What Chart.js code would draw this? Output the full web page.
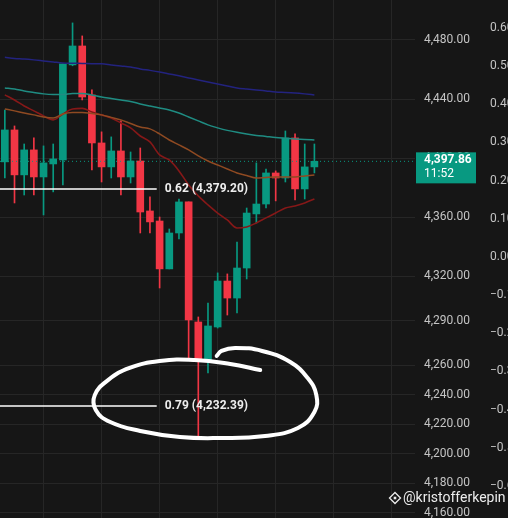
<!DOCTYPE html>
<html>
<head>
<meta charset="utf-8">
<script src="https://cdn.jsdelivr.net/npm/chart.js@4.4.1/dist/chart.umd.min.js"></script>
<style>
    html, body { margin: 0; padding: 0; background: #161616; overflow: hidden; }
    #wrap { width: 508px; height: 518px; }
</style>
</head>
<body>
<div id="wrap"><canvas id="chart" width="508" height="518"></canvas></div>
<script>
// candles (oldest -> newest)
const opens  = [4397.5, 4419.1, 4388.7, 4405.6, 4387.3, 4396.1, 4398.8, 4463.1, 4475.9, 4442.8, 4410.3, 4394.1, 4404.9, 4387.3, 4398.1, 4364.3, 4357.5, 4325.1, 4349.4, 4370.4, 4289.2, 4263.5, 4285.8, 4316.9, 4305.4, 4325.7, 4362.3, 4369.0, 4390.0, 4386.6, 4413.7, 4379.2, 4394.1];
const highs  = [4432.6, 4421.8, 4409.6, 4413.7, 4408.3, 4409.6, 4463.8, 4491.5, 4482.7, 4446.2, 4417.8, 4414.4, 4425.2, 4404.2, 4406.9, 4373.8, 4360.2, 4352.1, 4372.4, 4370.4, 4292.6, 4302.0, 4322.4, 4321.7, 4343.3, 4366.3, 4396.8, 4392.7, 4391.4, 4418.4, 4416.4, 4409.6, 4409.6];
const lows   = [4386.6, 4369.7, 4375.1, 4375.1, 4361.6, 4377.2, 4381.9, 4462.5, 4439.4, 4392.0, 4383.9, 4386.6, 4375.1, 4383.2, 4349.4, 4349.4, 4312.2, 4325.1, 4345.4, 4263.5, 4211.4, 4254.7, 4285.1, 4293.9, 4295.3, 4318.3, 4356.2, 4366.3, 4371.1, 4383.9, 4371.7, 4372.4, 4390.0];
const closes = [4419.1, 4388.7, 4405.6, 4387.3, 4396.8, 4399.5, 4463.8, 4475.9, 4441.4, 4410.3, 4394.1, 4404.9, 4387.3, 4398.1, 4363.6, 4356.9, 4325.1, 4349.4, 4370.4, 4290.6, 4263.5, 4286.5, 4316.9, 4305.4, 4325.7, 4362.9, 4369.0, 4390.0, 4386.6, 4413.7, 4379.2, 4394.1, 4397.86];

// moving averages
const maNavy   = [4468.2, 4467.5, 4467.1, 4466.5, 4465.8, 4465.1, 4464.4, 4464.2, 4464.1, 4463.9, 4463.8, 4463.1, 4462.4, 4461.7, 4460.4, 4459.4, 4458.3, 4457.0, 4455.7, 4454.3, 4452.9, 4451.6, 4450.2, 4448.9, 4447.5, 4446.8, 4446.2, 4445.5, 4444.8, 4444.5, 4444.1, 4443.5, 4442.8];
const maTeal   = [4447.5, 4446.8, 4445.5, 4444.5, 4443.5, 4443.1, 4443.1, 4443.8, 4443.8, 4442.8, 4441.4, 4440.4, 4439.4, 4438.4, 4436.7, 4435.3, 4434.0, 4432.6, 4430.6, 4427.9, 4425.2, 4422.5, 4420.5, 4418.8, 4417.5, 4416.4, 4415.4, 4414.7, 4414.0, 4413.5, 4413.0, 4412.7, 4412.3];
const maOrange = [4433.3, 4432.0, 4430.6, 4429.3, 4427.9, 4427.2, 4429.9, 4430.9, 4430.9, 4430.3, 4429.3, 4427.6, 4425.9, 4423.5, 4421.1, 4419.8, 4416.4, 4412.3, 4409.0, 4405.6, 4401.5, 4398.1, 4395.4, 4392.7, 4390.0, 4388.3, 4386.6, 4387.0, 4387.3, 4387.3, 4387.3, 4388.0, 4388.7];
const maRed    = [4442.8, 4439.4, 4435.3, 4432.0, 4428.6, 4425.9, 4429.9, 4433.3, 4433.7, 4431.3, 4429.3, 4427.2, 4423.8, 4420.5, 4415.0, 4411.0, 4402.2, 4398.8, 4391.4, 4381.9, 4374.5, 4368.4, 4362.9, 4358.2, 4352.8, 4353.5, 4356.2, 4359.6, 4362.9, 4366.3, 4367.7, 4369.7, 4372.4];

// axes
const priceTicks = [4160, 4180, 4200, 4220, 4240, 4260, 4290, 4320, 4360, 4400, 4440, 4480];
const oscTicks = [0.6, 0.5, 0.4, 0.3, 0.2, 0.1, 0, -0.1, -0.2, -0.3, -0.4, -0.5, -0.6];
const gridIdx = [4, 10, 16, 22, 28, 34, 40];

// fib levels
const fibLevels = [0.62, 0.79];
const fibPrices = [4379.20, 4232.39];
const lastPrice = 4397.86;
const countdown = "11:52";

// hand-drawn circle, in (bar index, price)
const circleIdx   = [26.4, 23.3, 19.6, 16.0, 12.9, 10.7, 9.3, 9.4, 10.9, 14.0, 18.1, 22.2, 26.9, 30.3, 32.0, 32.2, 31.3, 29.5, 26.6, 23.8, 22.4, 21.9];
const circlePrice = [4256.7, 4260.8, 4263.5, 4262.8, 4258.1, 4250.0, 4239.8, 4229.7, 4221.5, 4215.5, 4211.4, 4210.7, 4212.1, 4217.5, 4228.3, 4239.8, 4251.3, 4262.1, 4269.6, 4271.6, 4269.6, 4266.2];

const GREEN = '#089981';
const RED = '#f23645';
const X_MIN = -0.5, X_MAX = 42.4, FIB_END = 15.7;

const idx = closes.map((_, i) => i);
const candleColors = idx.map(i => closes[i] >= opens[i] ? GREEN : RED);

const fmtPrice = v => v.toLocaleString('en-US', { minimumFractionDigits: 2, maximumFractionDigits: 2 });

function noPad(s) {
    s.paddingLeft = 0;
    s.paddingRight = 0;
    s.paddingTop = 0;
    s.paddingBottom = 0;
}

function maDataset(values, color, width) {
    return {
        type: 'line',
        data: values.map((v, i) => ({ x: i, y: v })),
        borderColor: color,
        borderWidth: width,
        pointRadius: 0,
        cubicInterpolationMode: 'monotone',
        order: 2
    };
}

const datasets = [
    {
        type: 'bar',
        data: idx.map(i => ({ x: i, y: [lows[i], highs[i]] })),
        backgroundColor: candleColors,
        barThickness: 1,
        grouped: false,
        order: 6
    },
    {
        type: 'bar',
        data: idx.map(i => ({ x: i, y: [opens[i], closes[i]] })),
        backgroundColor: candleColors,
        barThickness: 7,
        minBarLength: 1,
        grouped: false,
        order: 5
    },
    maDataset(maNavy, '#23237f', 1.5),
    maDataset(maTeal, '#1f8c82', 1.5),
    maDataset(maOrange, '#8f4a22', 1.5),
    maDataset(maRed, '#861818', 1.6),
    {
        type: 'line',
        data: [{ x: X_MIN, y: lastPrice }, { x: X_MAX, y: lastPrice }],
        borderColor: GREEN,
        borderWidth: 1,
        borderDash: [1, 3],
        pointRadius: 0,
        order: 3
    }
];

fibPrices.forEach(p => {
    datasets.push({
        type: 'line',
        data: [{ x: X_MIN, y: p }, { x: FIB_END, y: p }],
        borderColor: '#ffffff',
        borderWidth: 1.5,
        pointRadius: 0,
        order: 1
    });
});

datasets.push({
    type: 'line',
    data: circleIdx.map((v, i) => ({ x: v, y: circlePrice[i] })),
    borderColor: '#ffffff',
    borderWidth: 4,
    borderCapStyle: 'round',
    borderJoinStyle: 'round',
    pointRadius: 0,
    tension: 0.45,
    order: 0
});

const overlayPlugin = {
    id: 'overlay',
    beforeDraw(chart) {
        const ctx = chart.ctx;
        ctx.save();
        ctx.fillStyle = '#161616';
        ctx.fillRect(0, 0, chart.width, chart.height);
        ctx.restore();
    },
    afterDraw(chart) {
        const ctx = chart.ctx;
        const xs = chart.scales.x;
        const ys = chart.scales.y;
        const area = chart.chartArea;
        ctx.save();

        // fib labels
        ctx.font = 'bold 12px Roboto';
        ctx.fillStyle = '#eeeeee';
        ctx.textBaseline = 'middle';
        ctx.textAlign = 'left';
        fibPrices.forEach((p, i) => {
            const px = xs.getPixelForValue(FIB_END) + 8;
            const py = ys.getPixelForValue(p);
            ctx.fillText(`${fibLevels[i].toFixed(2)} (${fmtPrice(p)})`, px, py);
        });

        // last price tag
        const ty = ys.getPixelForValue(lastPrice);
        ctx.fillStyle = GREEN;
        ctx.fillRect(area.right + 1, ty - 9, 60, 31);
        ctx.fillStyle = '#ffffff';
        ctx.font = 'bold 12px Roboto';
        ctx.fillText(fmtPrice(lastPrice), area.right + 9, ty - 1);
        ctx.font = '12px Roboto';
        ctx.fillText(countdown, area.right + 9, ty + 13);

        // watermark
        const wx = 395, wy = 498;
        ctx.strokeStyle = '#ececec';
        ctx.fillStyle = '#ececec';
        ctx.lineWidth = 1.3;
        ctx.beginPath();
        ctx.moveTo(wx, wy - 5.5); ctx.lineTo(wx + 5.5, wy); ctx.lineTo(wx, wy + 5.5); ctx.lineTo(wx - 5.5, wy); ctx.closePath();
        ctx.stroke();
        ctx.fillRect(wx - 1.3, wy - 1.3, 2.6, 2.6);
        ctx.font = '14px Roboto';
        ctx.fillText('@kristofferkepin', 403, wy);

        ctx.restore();
    }
};

new Chart(document.getElementById('chart'), {
    data: { datasets },
    options: {
        responsive: false,
        animation: false,
        events: [],
        layout: { padding: 0, autoPadding: false },
        plugins: { legend: { display: false }, tooltip: { enabled: false } },
        scales: {
            x: {
                type: 'linear',
                offset: false,
                min: X_MIN,
                max: X_MAX,
                afterBuildTicks: s => { s.ticks = gridIdx.map(v => ({ value: v })); },
                afterFit: s => { s.height = 0; noPad(s); },
                ticks: { display: false },
                grid: { color: '#262626', drawTicks: false, offset: false },
                border: { display: false }
            },
            y: {
                type: 'linear',
                position: 'right',
                weight: 0,
                min: 4156.6,
                max: 4507,
                afterBuildTicks: s => { s.ticks = priceTicks.map(v => ({ value: v })); },
                afterFit: s => { s.width = 75; noPad(s); },
                ticks: {
                    callback: v => fmtPrice(v),
                    color: '#c4c4c4',
                    font: { family: 'Roboto', size: 12 },
                    padding: 9
                },
                grid: { color: '#262626', drawTicks: false },
                border: { display: false }
            },
            y2: {
                type: 'linear',
                position: 'right',
                weight: 1,
                min: -0.684,
                max: 0.6733,
                afterBuildTicks: s => { s.ticks = oscTicks.map(v => ({ value: v })); },
                afterFit: s => { s.width = 18; noPad(s); },
                ticks: {
                    callback: v => v.toFixed(2).replace('-', '\u2212'),
                    color: '#c4c4c4',
                    font: { family: 'Roboto', size: 12 },
                    padding: 0
                },
                grid: { display: false, drawTicks: false },
                border: { display: false }
            }
        }
    },
    plugins: [overlayPlugin]
});
</script>
</body>
</html>
